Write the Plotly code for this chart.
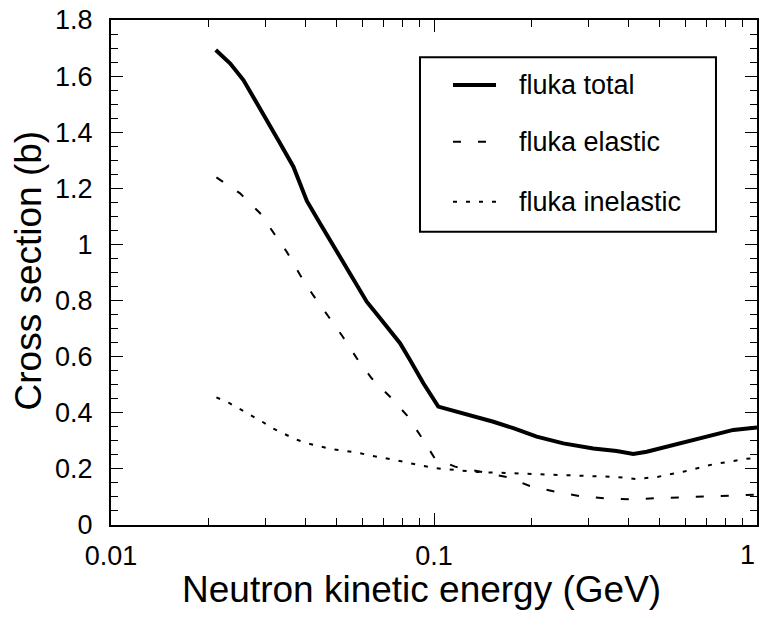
import plotly.graph_objects as go

# Neutron kinetic energy (GeV) and cross sections (barn) from FLUKA
energy_total = [0.0211, 0.0234, 0.0257, 0.0276, 0.0303, 0.0334, 0.0367, 0.0404, 0.0444,
                0.0512, 0.0563, 0.0619, 0.0681, 0.0785, 0.0843, 0.0927, 0.1031, 0.1232,
                0.1527, 0.176, 0.208, 0.2514, 0.3113, 0.3678, 0.414, 0.4555, 0.5776,
                0.6989, 0.8447, 1.0]
sigma_total = [1.693, 1.645, 1.586, 1.526, 1.443, 1.360, 1.277, 1.155, 1.075,
               0.956, 0.873, 0.796, 0.737, 0.648, 0.588, 0.505, 0.422, 0.398,
               0.368, 0.345, 0.315, 0.291, 0.273, 0.264, 0.253, 0.261, 0.291,
               0.3125, 0.339, 0.348]

energy_elastic = [0.0212, 0.0251, 0.0289, 0.0318, 0.0350, 0.0385, 0.0422, 0.0470, 0.0522,
                  0.0577, 0.0641, 0.0731, 0.0823, 0.0905, 0.1005, 0.1162, 0.1388, 0.168,
                  0.198, 0.237, 0.283, 0.338, 0.4045, 0.489, 0.591, 0.699, 0.835, 1.0]
sigma_elastic = [1.239, 1.182, 1.112, 1.044, 0.974, 0.891, 0.820, 0.745, 0.671,
                 0.594, 0.523, 0.457, 0.392, 0.321, 0.238, 0.208, 0.190, 0.171,
                 0.139, 0.119, 0.103, 0.095, 0.092, 0.095, 0.099, 0.101, 0.105, 0.108]

energy_inelastic = [0.0212, 0.0232, 0.0251, 0.0271, 0.0294, 0.0318, 0.0344, 0.0373, 0.0406,
                    0.0444, 0.0484, 0.0530, 0.0579, 0.0634, 0.0692, 0.0757, 0.0860, 0.100,
                    0.136, 0.198, 0.283, 0.368, 0.421, 0.489, 0.591, 0.730, 0.930, 1.0]
sigma_inelastic = [0.455, 0.435, 0.413, 0.392, 0.368, 0.344, 0.324, 0.305, 0.291,
                   0.279, 0.270, 0.264, 0.258, 0.248, 0.241, 0.232, 0.218, 0.203,
                   0.189, 0.182, 0.178, 0.171, 0.164, 0.171, 0.190, 0.216, 0.236, 0.240]

x_major = [0.01, 0.1, 1]
x_major_text = ["0.01", "0.1", "1"]
x_minor = [k * 0.01 for k in range(2, 10)] + [k * 0.1 for k in range(2, 10)]
y_major = [0, 0.2, 0.4, 0.6, 0.8, 1.0, 1.2, 1.4, 1.6, 1.8]
y_major_text = ["0", "0.2", "0.4", "0.6", "0.8", "1", "1.2", "1.4", "1.6", "1.8"]

series_names = ["fluka total", "fluka elastic", "fluka inelastic"]
series_width = [4, 2, 2]
series_dash = ["solid", "8px,17px", "4px,9px"]

FONT = "Liberation Sans, Arial, Helvetica, sans-serif"

fig = go.Figure()
for xs, ys, name, w, d in zip(
        [energy_total, energy_elastic, energy_inelastic],
        [sigma_total, sigma_elastic, sigma_inelastic],
        series_names, series_width, series_dash):
    fig.add_trace(go.Scatter(x=xs, y=ys, mode="lines", name=name,
                             line=dict(color="black", width=w, dash=d),
                             showlegend=False, cliponaxis=False))

axis_common = dict(showline=True, linecolor="black", linewidth=2, mirror="allticks",
                   ticks="inside", ticklen=12, tickwidth=1, tickcolor="black",
                   showgrid=False, zeroline=False, automargin=False,
                   tickfont=dict(family=FONT, size=27, color="black"))

# the label of the last decade sits flush with the right page edge, so it is
# written as a right-anchored annotation instead of a centred tick label
fig.update_xaxes(type="log", range=[-2, 0], tickvals=x_major,
                 ticktext=x_major_text[:-1] + [""],
                 minor=dict(tickvals=x_minor, ticks="inside", ticklen=7,
                            tickwidth=1, tickcolor="black"),
                 ticklabelstandoff=6, **axis_common)
fig.add_annotation(xref="paper", yref="paper", x=1.0, y=-0.0594,
                   xanchor="right", yanchor="middle", text=x_major_text[-1],
                   showarrow=False,
                   font=dict(family=FONT, size=27, color="black"))

fig.update_yaxes(range=[0, 1.8], tickvals=y_major, ticktext=y_major_text,
                 minor=dict(dtick=0.05, ticks="inside", ticklen=7,
                            tickwidth=1, tickcolor="black"),
                 ticklabelstandoff=11, **axis_common)

# Legend drawn as a framed box with line samples and labels
fig.add_shape(type="rect", xref="paper", yref="paper",
              x0=0.4783, x1=0.9365, y0=0.5808, y1=0.9261,
              line=dict(color="black", width=2), fillcolor="white", layer="above")
legend_rows = [0.8713, 0.7590, 0.6402]
for yrow, name, w, d in zip(legend_rows, series_names, series_width, series_dash):
    fig.add_shape(type="line", xref="paper", yref="paper",
                  x0=0.5294, x1=0.5960, y0=yrow, y1=yrow,
                  line=dict(color="black", width=w, dash=d), layer="above")
    fig.add_annotation(xref="paper", yref="paper", x=0.628, y=yrow,
                       xanchor="left", yanchor="middle", text=name,
                       showarrow=False,
                       font=dict(family=FONT, size=27, color="black"))

# Axis titles
fig.add_annotation(xref="paper", yref="paper", x=0.481, y=-0.1285,
                   xanchor="center", yanchor="middle",
                   text="Neutron kinetic energy (GeV)", showarrow=False,
                   font=dict(family=FONT, size=37, color="black"))
fig.add_annotation(xref="paper", yref="paper", x=-0.1285, y=0.504,
                   xanchor="center", yanchor="middle", textangle=-90,
                   text="Cross section (b)", showarrow=False,
                   font=dict(family=FONT, size=37, color="black"))

fig.update_layout(width=761, height=618,
                  margin=dict(l=111, r=4, t=20, b=93, autoexpand=False),
                  plot_bgcolor="white", paper_bgcolor="white")

fig.write_html("out.html")
